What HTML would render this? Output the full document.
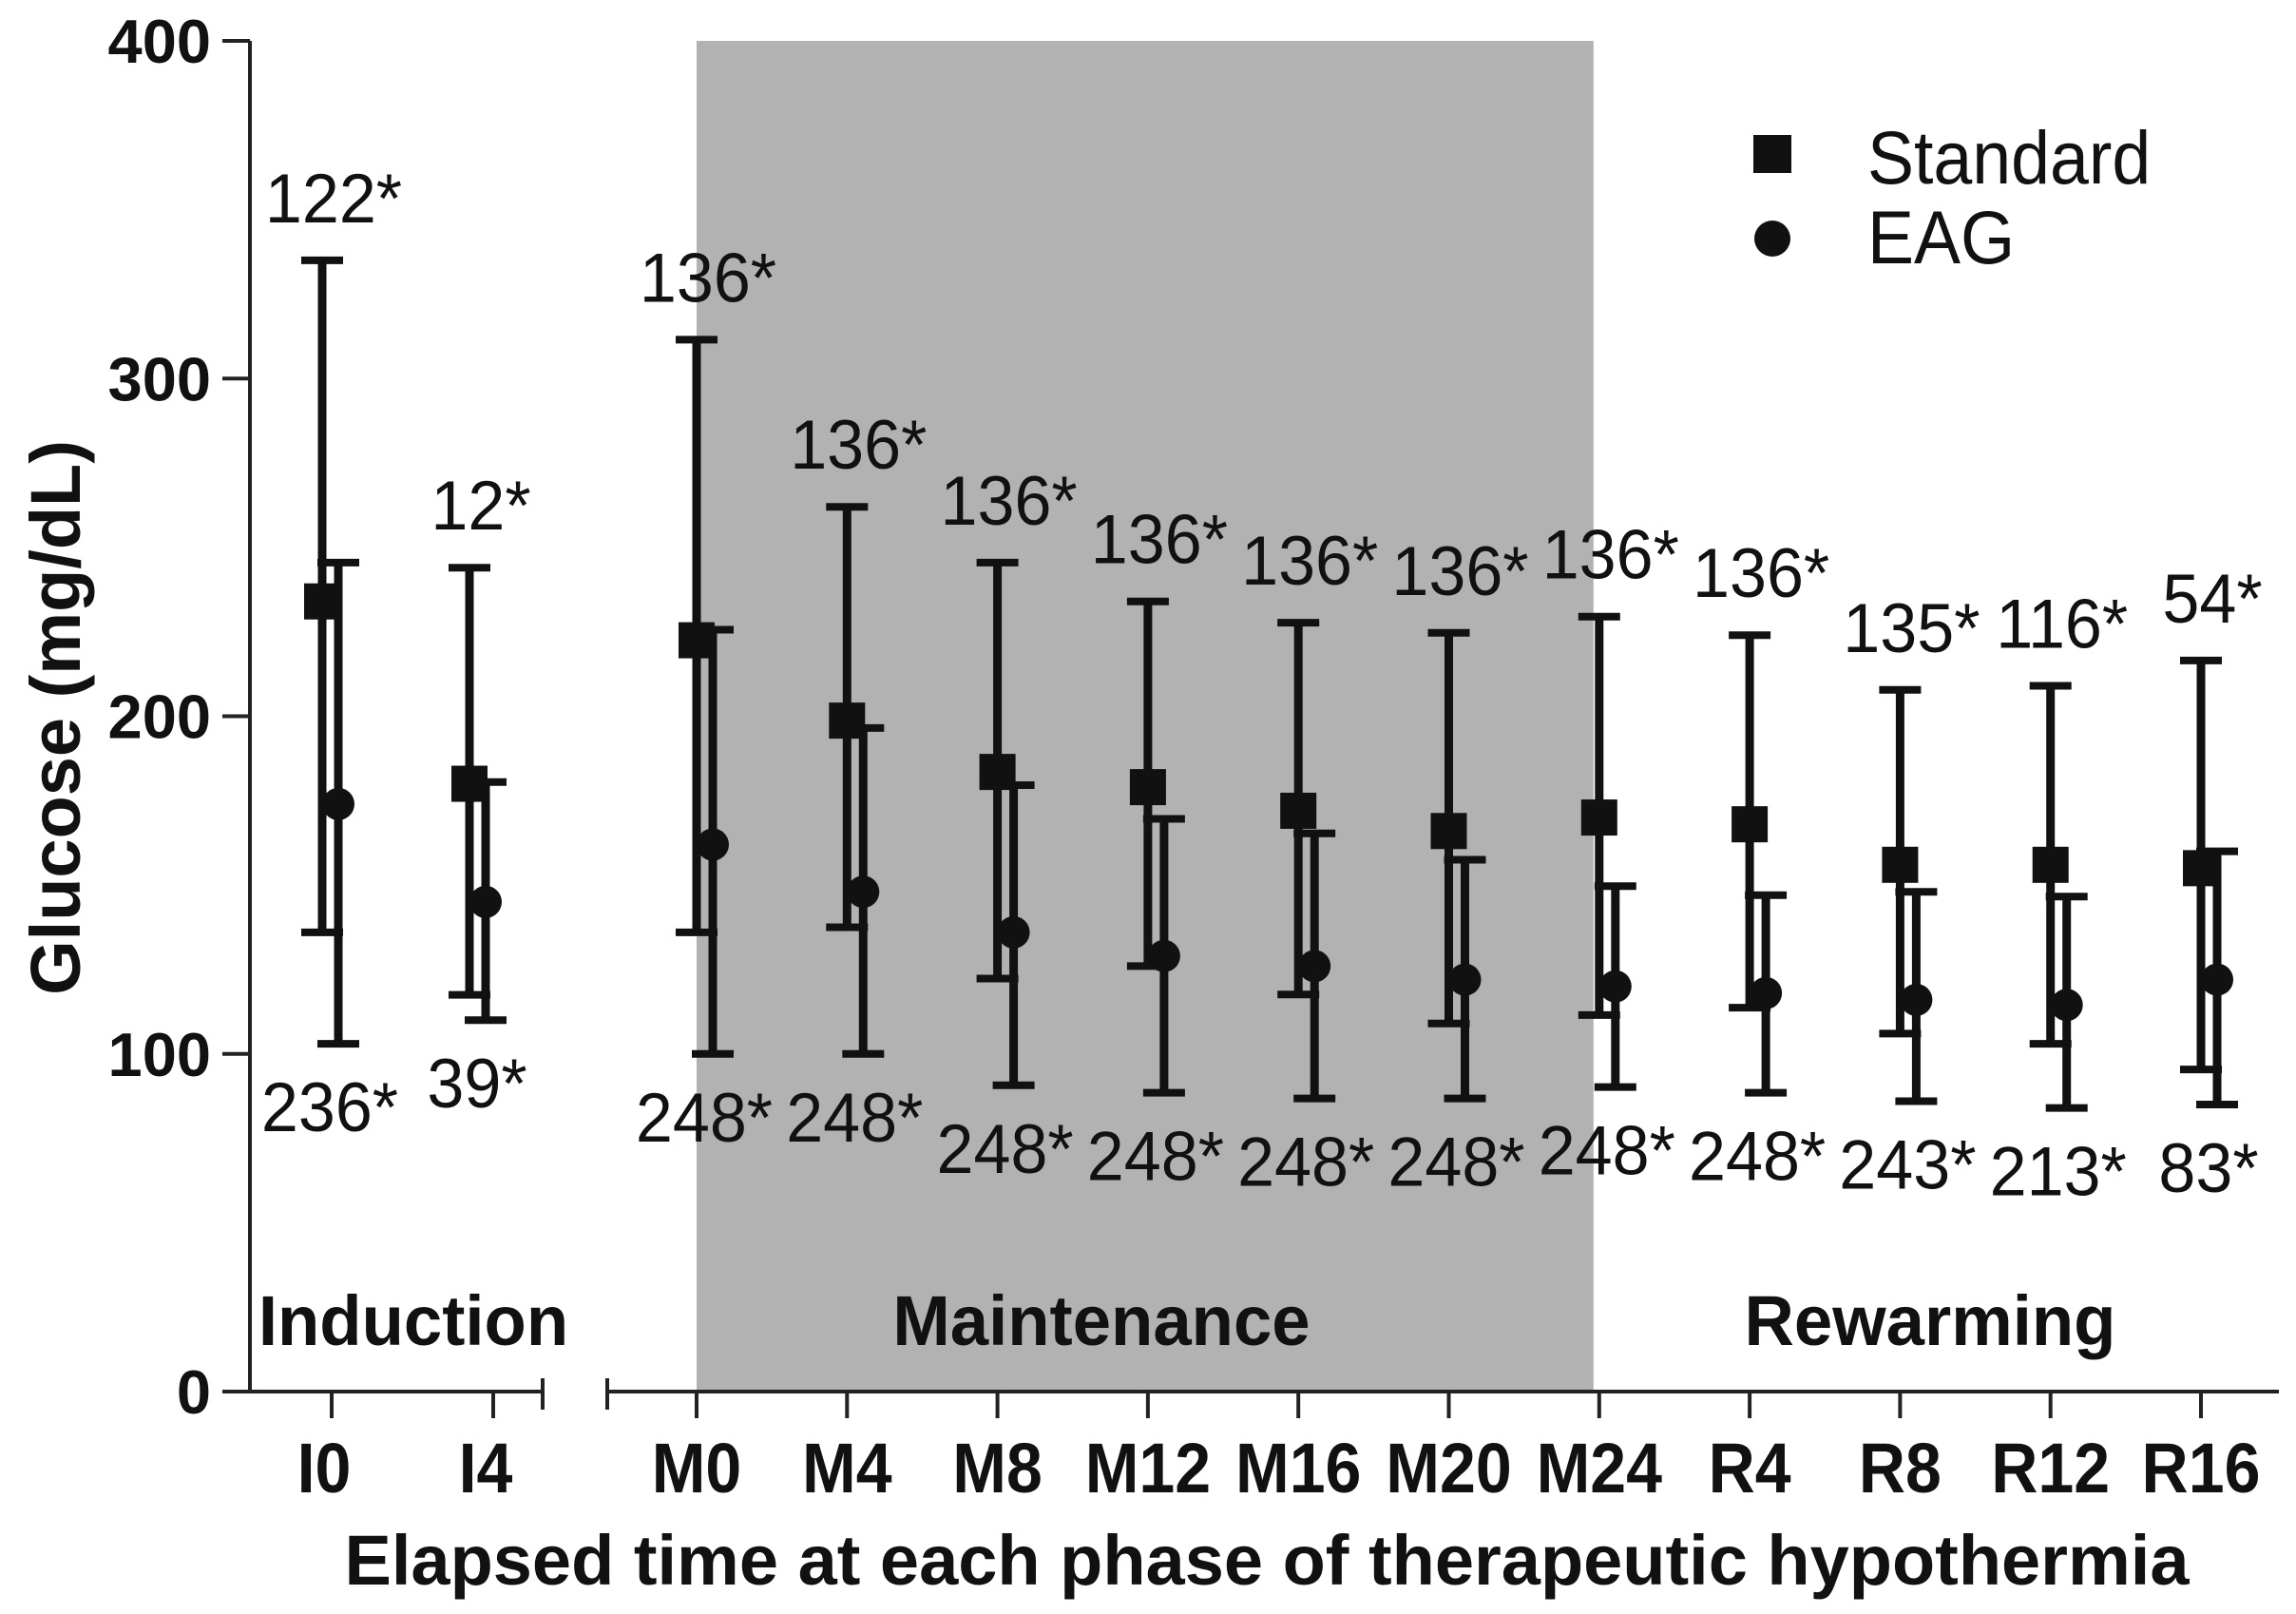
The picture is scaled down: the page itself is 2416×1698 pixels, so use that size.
<!DOCTYPE html>
<html><head><meta charset="utf-8">
<style>
html,body{margin:0;padding:0;background:#fff;}
svg{display:block;}
text{font-family:"Liberation Sans",Arial,sans-serif;fill:#111;}
</style></head>
<body>
<svg id="chart" width="2416" height="1698" viewBox="0 0 2416 1698" xmlns="http://www.w3.org/2000/svg">
<rect x="0" y="0" width="2416" height="1698" fill="#fff"/>
<g id="shade"></g>
<g id="axes"></g>
<g id="marks"></g>
<g id="labels"></g>
<g id="legend"></g>
</svg>
<script>
const categories = ["I0","I4","M0","M4","M8","M12","M16","M20","M24","R4","R8","R12","R16"];
const stdMean  = [234,180,222.5,198.7,183.5,179,172,166,170,168,156,156,155];
const stdUpper = [335,244,311.5,262,245.5,234,227.7,224.7,229.5,224,207.8,209,216.5];
const stdLower = [136,117.5,136,137.5,122.3,126,117.6,109,111.5,113.7,106,103,95.4];
const eagMean  = [174,145,162,148,136,129,126,122,120,118,116,114.5,122];
const eagUpper = [245.5,180.5,225.6,196.5,179.6,169.6,165.3,157.5,149.7,147,148,146.6,160];
const eagLower = [103,110,100,100,90.7,88.5,86.8,86.8,90.2,88.5,86,84,85];
const topLabels = ["122*","12*","136*","136*","136*","136*","136*","136*","136*","136*","135*","116*","54*"];
const bottomLabels = ["236*","39*","248*","248*","248*","248*","248*","248*","248*","248*","243*","213*","83*"];
const yTicks = [0,100,200,300,400];
const phases = ["Induction","Maintenance","Rewarming"];

const NS="http://www.w3.org/2000/svg";
function Y(v){return 1464 - v*3.5525;}
function X(i){ if(i===0) return 349; if(i===1) return 519; return 733 + (i-2)*158.3; }
function markX(i){ if(i===0) return X(0)-10; if(i===1) return X(1)-25; return X(i); }
function mk(tag, attrs, parent){const e=document.createElementNS(NS,tag);for(const k in attrs)e.setAttribute(k,attrs[k]);parent.appendChild(e);return e;}
function condense(t,f){const w=t.getComputedTextLength();t.setAttribute('textLength',(w*f).toFixed(1));t.setAttribute('lengthAdjust','spacingAndGlyphs');}

const shade=document.getElementById('shade'), axes=document.getElementById('axes'),
      marks=document.getElementById('marks'), labels=document.getElementById('labels'), legend=document.getElementById('legend');

const band=mk('rect',{x:X(2),y:Y(400),width:X(8)-X(2)-6,height:Y(0)-Y(400),fill:'#b2b2b2'},shade);



const yl=mk('line',{x1:263,y1:Y(400),x2:263,y2:Y(0),stroke:'#222','stroke-width':4},axes);


yTicks.forEach(v=>{
  const t=mk('line',{x1:234,y1:Y(v),x2:263,y2:Y(v),stroke:'#222','stroke-width':4},axes);
  
  
  const tx=mk('text',{x:222,y:Y(v)+23,'text-anchor':'end','font-size':65,'font-weight':'bold'},axes);
  tx.textContent=v;
  
  
});
const yt=mk('text',{x:0,y:0,'text-anchor':'middle','font-size':74,'font-weight':'bold',transform:'translate(84,755) rotate(-90)'},axes);
yt.textContent='Glucose (mg/dL)';



const xa1=mk('line',{x1:234,y1:1464,x2:571,y2:1464,stroke:'#222','stroke-width':4},axes);


const xa2=mk('line',{x1:639,y1:1464,x2:2398,y2:1464,stroke:'#222','stroke-width':4},axes);


[571,639].forEach(bx=>{
  const b=mk('line',{x1:bx,y1:1450,x2:bx,y2:1483,stroke:'#222','stroke-width':4},axes);
  
  
});
categories.forEach((c,i)=>{
  const t=mk('line',{x1:X(i),y1:1464,x2:X(i),y2:1492,stroke:'#222','stroke-width':4},axes);
  
  
  const tx=mk('text',{x:X(i)-(i<2?8:0),y:1570,'text-anchor':'middle','font-size':74,'font-weight':'bold'},axes);
  tx.textContent=c;
  
  
  condense(tx,0.92);
});
const xt=mk('text',{x:1333,y:1667,'text-anchor':'middle','font-size':74,'font-weight':'bold'},axes);
xt.textContent='Elapsed time at each phase of therapeutic hypothermia';


condense(xt,1.0);

const phaseX=[435,1159,2031];
phases.forEach((p,i)=>{
  const t=mk('text',{x:phaseX[i],y:1415,'text-anchor':'middle','font-size':74,'font-weight':'bold'},labels);
  t.textContent=p;
  
  
  condense(t,0.98);
});

function errBar(x,lo,hi,name){
  const g=mk('g',{},marks);
  
  
  mk('line',{x1:x,y1:Y(hi),x2:x,y2:Y(lo),stroke:'#111','stroke-width':9},g);
  mk('line',{x1:x-22,y1:Y(hi),x2:x+22,y2:Y(hi),stroke:'#111','stroke-width':8},g);
  mk('line',{x1:x-22,y1:Y(lo),x2:x+22,y2:Y(lo),stroke:'#111','stroke-width':8},g);
}
categories.forEach((c,i)=>{
  const xs=markX(i), xe=xs+17;
  errBar(xe,eagLower[i],eagUpper[i],'eag-errorbar-'+c.toLowerCase());
  const ci=mk('circle',{cx:xe,cy:Y(eagMean[i]),r:17,fill:'#111'},marks);
  
  
  errBar(xs,stdLower[i],stdUpper[i],'standard-errorbar-'+c.toLowerCase());
  const sq=mk('rect',{x:xs-19,y:Y(stdMean[i])-19,width:38,height:38,fill:'#111'},marks);
  
  
  const tt=mk('text',{x:xs+12,y:Y(stdUpper[i])-40,'text-anchor':'middle','font-size':73},labels);
  tt.textContent=topLabels[i];
  
  
  condense(tt,0.96);
  const lowest=Math.min(stdLower[i],eagLower[i]);
  const bt=mk('text',{x:xs+8,y:Y(lowest)+92,'text-anchor':'middle','font-size':73},labels);
  bt.textContent=bottomLabels[i];
  
  
  condense(bt,0.96);
});

const l1=mk('rect',{x:1845,y:142,width:40,height:40,fill:'#111'},legend);


const lt1=mk('text',{x:1965,y:193,'font-size':79},legend);
lt1.textContent='Standard';


condense(lt1,0.93);
const l2=mk('circle',{cx:1865,cy:251,r:19,fill:'#111'},legend);


const lt2=mk('text',{x:1965,y:277,'font-size':79},legend);
lt2.textContent='EAG';


condense(lt2,0.93);
</script>
</body></html>
